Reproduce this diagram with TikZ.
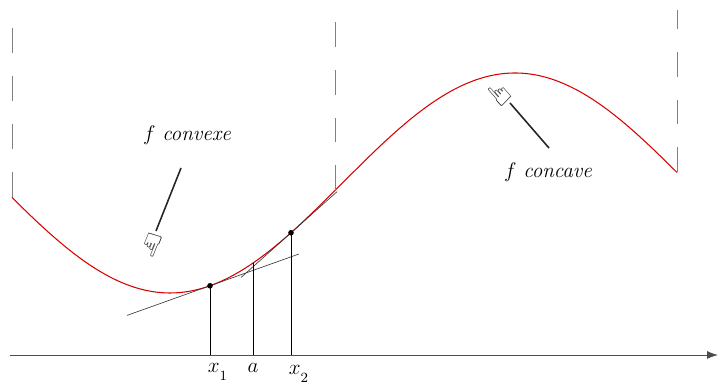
\documentclass[tikz,border=0pt]{standalone}
\usepackage{fontspec}
\newfontfamily\handfont{DejaVu Sans}
\usetikzlibrary{arrows.meta}
\begin{document}
\begin{tikzpicture}[
        x=0.02cm, y=0.02cm,
        courbe/.style={draw=red!85!black, line width=0.6pt},
        tang/.style={draw=black!80, line width=0.35pt},
        guide/.style={draw=black!50, line width=0.45pt, dash pattern=on 0.5cm off 0.46cm},
        vert/.style={draw=black, line width=0.4pt},
        pointeur/.style={draw=black!85, line width=0.9pt},
        main/.style={font=\handfont\LARGE, inner sep=0pt},
        pt/.style={circle, fill=black, inner sep=0pt, minimum size=3.2pt},
        lbl/.style={font=\large},
        font=\large
    ]
    \useasboundingbox (0,0) rectangle (718,384);

    % Axe
    \coordinate (o) at (10,29);
    \coordinate (e) at (718,29);
    \draw[black!70, line width=0.5pt, -{Latex[length=2.2mm, width=1.6mm]}] (o) -- (e);

    % Courbe
    \draw[courbe] plot[domain=12:677, samples=120, smooth] (\x,{201-110*cos(0.52174*(\x-170))});

    % Limites des zones
    \coordinate (g1) at (12,186.6);
    \coordinate (g2) at (335,193.5);
    \coordinate (g3) at (677,211.5);
    \draw[guide] (g1) -- (12,360);
    \draw[guide] (g2) -- (335,364);
    \draw[guide] (g3) -- (677,374);

    % Points et tangentes
    \coordinate (x1) at (210,98.2);
    \coordinate (a) at (253,121);
    \coordinate (x2) at (291,151.2);
    \coordinate (t1a) at (127,68.6);
    \coordinate (t1b) at (299,130);
    \coordinate (t2a) at (241,106.5);
    \coordinate (t2b) at (337,192.3);
    \draw[tang] (t1a) -- (t1b);
    \draw[tang] (t2a) -- (t2b);

    \coordinate (x1b) at (210,29);
    \coordinate (ab) at (253,29);
    \coordinate (x2b) at (291,29);
    \draw[vert] (x1) -- (x1b);
    \draw[vert] (a) -- (ab);
    \draw[vert] (x2) -- (x2b);
    \node[pt] at (x1) {};
    \node[pt] at (x2) {};

    \node[lbl] (lx1) at (218,12) {$x_{\lower3pt\hbox{$\scriptstyle 1$}}$};
    \node[lbl] (la) at (253,16) {$a$};
    \node[lbl] (lx2) at (299,10) {$x_{\lower3pt\hbox{$\scriptstyle 2$}}$};

    % Legendes
    \node[lbl] (cvx) at (187,249) {$f$ \textit{convexe}};
    \node[lbl] (ccv) at (548,212) {$f$ \textit{concave}};

    \coordinate (p1) at (181,216);
    \coordinate (q1) at (156,153);
    \draw[pointeur] (p1) -- (q1);
    \node[main, rotate=248, anchor=west] (h1) at (q1) {☞};

    \coordinate (p2) at (549,236);
    \coordinate (q2) at (510,281);
    \draw[pointeur] (p2) -- (q2);
    \node[main, rotate=131, anchor=west] (h2) at (q2) {☞};

    \end{tikzpicture}
\end{document}
